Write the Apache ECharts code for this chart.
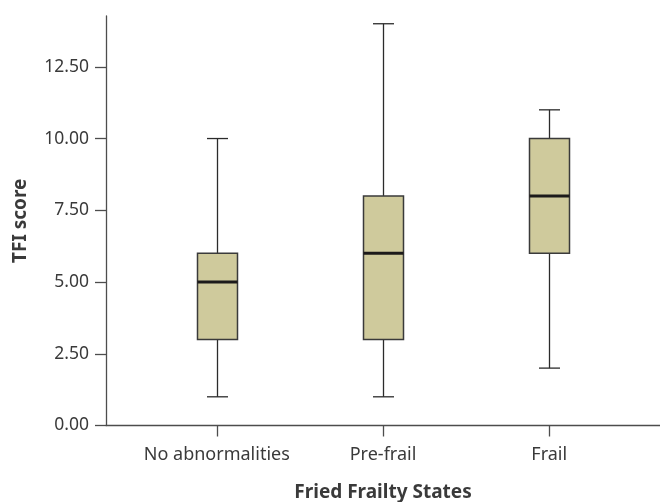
<!DOCTYPE html>
<html>
<head>
<meta charset="utf-8">
<script src="https://cdn.jsdelivr.net/npm/echarts@6/dist/echarts.min.js"></script>
<style>
html,body{margin:0;padding:0;background:#fff;}
#chart{width:660px;height:502px;}
</style>
</head>
<body>
<div id="chart"></div>
<script>
const categories = ['No abnormalities', 'Pre-frail', 'Frail'];
const whiskerLow = [1, 1, 2];
const q1 = [3, 3, 6];
const median = [5, 6, 8];
const q3 = [6, 8, 10];
const whiskerHigh = [10, 14, 11];
const yTicks = [0, 2.5, 5, 7.5, 10, 12.5];
const xPositions = [1, 2, 3];

const FONT = 'Noto Sans';
const TEXT = '#3a3a3a';
const AXIS = '#4d4d4d';

const boxData = categories.map((c, i) => [xPositions[i], whiskerLow[i], q1[i], median[i], q3[i], whiskerHigh[i]]);

const chart = echarts.init(document.getElementById('chart'), null, {renderer: 'canvas'});

function renderBox(params, api) {
  const x = api.value(0);
  const pMin = api.coord([x, api.value(1)]);
  const pQ1 = api.coord([x, api.value(2)]);
  const pMed = api.coord([x, api.value(3)]);
  const pQ3 = api.coord([x, api.value(4)]);
  const pMax = api.coord([x, api.value(5)]);
  const cx = Math.round(pQ1[0]) + 0.5;
  const half = 20;
  const cap = 10.5;
  const lineStyle = {stroke: '#2b2b2b', lineWidth: 1.3};
  return {
    type: 'group',
    children: [
      {type: 'line', shape: {x1: cx, y1: pQ1[1], x2: cx, y2: pMin[1]}, style: lineStyle},
      {type: 'line', shape: {x1: cx, y1: pQ3[1], x2: cx, y2: pMax[1]}, style: lineStyle},
      {type: 'line', shape: {x1: cx - cap, y1: pMin[1], x2: cx + cap, y2: pMin[1]}, style: lineStyle},
      {type: 'line', shape: {x1: cx - cap, y1: pMax[1], x2: cx + cap, y2: pMax[1]}, style: lineStyle},
      {type: 'rect', shape: {x: cx - half, y: pQ3[1], width: half * 2, height: pQ1[1] - pQ3[1]},
        style: {fill: '#cfca9c', stroke: '#3a3a3a', lineWidth: 1.5}},
      {type: 'line', shape: {x1: cx - half, y1: pMed[1], x2: cx + half, y2: pMed[1]},
        style: {stroke: '#1c1a1a', lineWidth: 3}}
    ]
  };
}

chart.setOption({
  animation: false,
  backgroundColor: '#ffffff',
  grid: {left: 106, right: 0, top: 16, bottom: 76.5, containLabel: false, outerBoundsMode: 'none'},
  xAxis: {
    type: 'value',
    min: 1 / 3,
    max: 11 / 3,
    splitLine: {show: false},
    axisLine: {show: true, lineStyle: {color: AXIS, width: 1.3}},
    axisTick: {show: true, length: 11, customValues: xPositions, lineStyle: {color: AXIS, width: 1.3}},
    axisLabel: {
      customValues: xPositions,
      margin: 20,
      color: TEXT,
      fontFamily: FONT,
      fontSize: 18,
      formatter: function (v) { return categories[Math.round(v) - 1]; }
    },
    name: 'Fried Frailty States',
    nameLocation: 'middle',
    nameGap: 58,
    nameTextStyle: {color: TEXT, fontFamily: FONT, fontSize: 19, fontWeight: 'bold'}
  },
  yAxis: {
    type: 'value',
    min: 0,
    max: 14.27,
    splitLine: {show: false},
    axisLine: {show: true, lineStyle: {color: AXIS, width: 1.3}},
    axisTick: {show: true, length: 11, customValues: yTicks, lineStyle: {color: AXIS, width: 1.3}},
    axisLabel: {
      customValues: yTicks,
      margin: 17,
      color: TEXT,
      fontFamily: FONT,
      fontSize: 17.5,
      formatter: function (v) { return v.toFixed(2); }
    },
    name: 'TFI score',
    nameLocation: 'middle',
    nameGap: 76,
    nameTextStyle: {color: TEXT, fontFamily: FONT, fontSize: 19, fontWeight: 'bold'}
  },
  series: [{
    type: 'custom',
    renderItem: renderBox,
    encode: {x: 0, y: [1, 2, 3, 4, 5]},
    data: boxData,
    clip: false
  }]
});
</script>
</body>
</html>
